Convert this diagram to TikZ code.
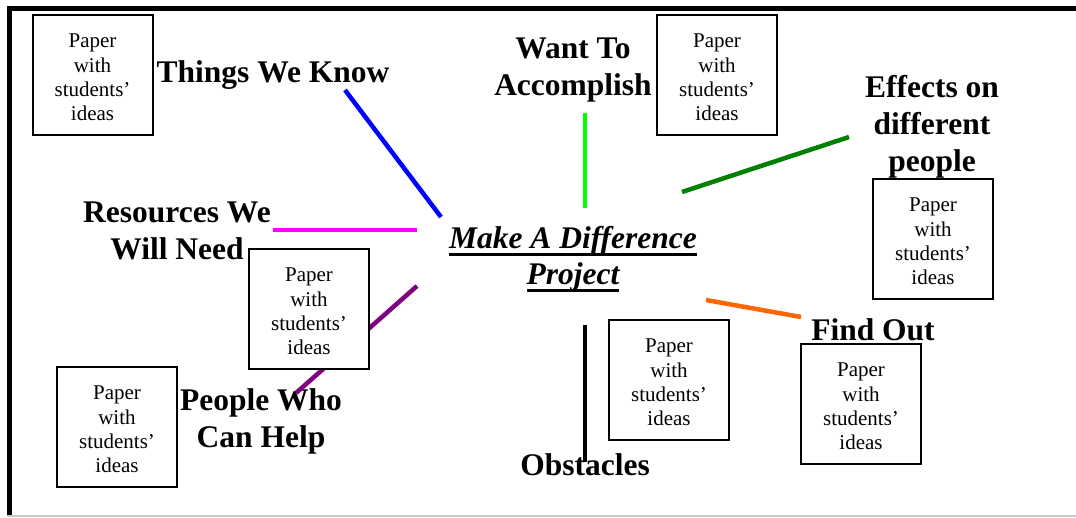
\documentclass[tikz,border=0pt]{standalone}
\usepackage{fontspec}
\setmainfont{Liberation Serif}
\usepackage{tikz}
\usetikzlibrary{positioning}

\newcommand{\projline}[1]{\setbox0=\hbox{#1}\rlap{\rule[-7pt]{\wd0}{3pt}}\box0}
\newcommand{\ideatext}{\rule{0pt}{19pt}Paper\\with\\students’\\ideas}

\definecolor{lime}{RGB}{0,255,0}
\definecolor{dkgreen}{RGB}{0,128,0}
\definecolor{orng}{RGB}{255,102,0}
\definecolor{purp}{RGB}{128,0,128}
\definecolor{pink}{RGB}{255,0,255}
\definecolor{blu}{RGB}{0,0,255}

\begin{document}
\begin{tikzpicture}[x=1pt,y=-1pt,
    paper/.style={draw,fill=white,line width=2pt,minimum size=120pt,inner sep=0pt,align=center,
      font=\fontsize{21}{24.3}\selectfont},
    topic/.style={align=center,inner sep=0pt,font=\fontsize{31.5}{37}\selectfont\bfseries},
    hub/.style={align=center,inner sep=0pt,font=\fontsize{31.5}{36}\selectfont\bfseries\itshape},
    spoke/.style={line width=4.5pt}]
              \useasboundingbox (0,0) rectangle (1076,517);

              % frame
              \draw[line width=5pt] (9.5,517) -- (9.5,8.5) -- (1076,8.5);
              \draw[gray!40,line width=1.5pt] (7,516) -- (1076,516);

              % centre
              \node[hub] (proj) at (573,259) {\projline{Make A Difference}\\\projline{Project}};

              % topics
              \node[topic] (know) at (273,75.5) {Things We Know};
              \node[topic] (want) at (573,70) {Want To\\Accomplish};
              \node[topic] (effects) at (932,126.5) {Effects on\\different\\people};
              \node[topic] (res) at (177,231) {Resources We\\Will Need};
              \node[topic] (help) at (261,421.5) {People Who\\Can Help};
              \node[topic] (find) at (873,330) {Find Out};
              \node[topic] (obst) at (585,465) {Obstacles};

              % spokes
              \coordinate (k1) at (345,90);   \coordinate (k2) at (441,217);
              \coordinate (w1) at (585,113);  \coordinate (w2) at (585,208);
              \coordinate (e1) at (682,192);  \coordinate (e2) at (849,137);
              \coordinate (r1) at (273,230);  \coordinate (r2) at (417,230);
              \coordinate (h1) at (417,286);  \coordinate (h2) at (296,393);
              \coordinate (f1) at (706,300);  \coordinate (f2) at (801,317);
              \coordinate (o1) at (585,325);  \coordinate (o2) at (585,462);
              \draw[spoke,blu] (k1) -- (k2);
              \draw[spoke,lime] (w1) -- (w2);
              \draw[spoke,dkgreen] (e1) -- (e2);
              \draw[spoke,pink] (r1) -- (r2);
              \draw[spoke,purp] (h1) -- (h2);
              \draw[spoke,orng] (f1) -- (f2);
              \draw[spoke,black] (o1) -- (o2);

              % papers
              \node[paper] (p1) at (92.5,75) {\ideatext};
              \node[paper] (p2) at (717,75) {\ideatext};
              \node[paper] (p3) at (933,239) {\ideatext};
              \node[paper] (p4) at (309,309) {\ideatext};
              \node[paper] (p5) at (669,380) {\ideatext};
              \node[paper] (p6) at (861,404) {\ideatext};
              \node[paper] (p7) at (117,427) {\ideatext};
            \end{tikzpicture}
\end{document}
